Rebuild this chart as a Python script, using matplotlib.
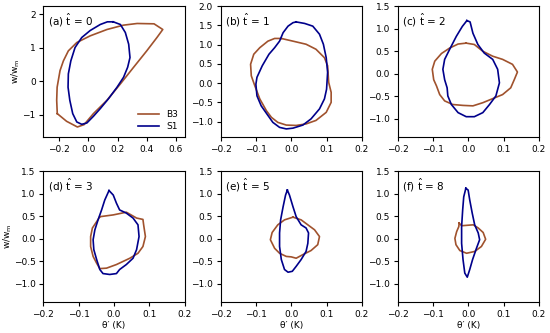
import numpy as np
import matplotlib
matplotlib.use("Agg")
import matplotlib.pyplot as plt

# contour outlines (theta' in K, w/w_m)
# (a) t = 0
a_b3_x = [-0.214, -0.15, -0.076, -0.03, 0.034, 0.127, 0.219, 0.31, 0.40, 0.47, 0.51, 0.45, 0.334, 0.24, 0.127, 0.012, -0.08, -0.138, -0.172, -0.195, -0.215, -0.218]
a_b3_y = [-0.97, -1.2, -1.37, -1.3, -0.97, -0.57, -0.08, 0.42, 0.91, 1.31, 1.55, 1.72, 1.73, 1.68, 1.55, 1.36, 1.16, 0.91, 0.61, 0.32, -0.18, -0.57]
a_s1_x = [0.17, 0.219, 0.253, 0.276, 0.285, 0.269, 0.241, 0.196, 0.138, 0.081, 0.034, -0.011, -0.046, -0.08, -0.108, -0.128, -0.14, -0.138, -0.121, -0.092, -0.046, 0.012, 0.081, 0.13]
a_s1_y = [1.78, 1.70, 1.46, 1.11, 0.71, 0.42, 0.12, -0.18, -0.52, -0.82, -1.05, -1.25, -1.29, -1.22, -0.97, -0.57, -0.18, 0.22, 0.61, 1.01, 1.31, 1.52, 1.70, 1.78]

# (b) t = 1
b_b3_x = [-0.028, 0.005, 0.042, 0.07, 0.094, 0.103, 0.106, 0.113, 0.113, 0.099, 0.07, 0.042, 0.014, -0.014, -0.038, -0.056, -0.07, -0.089, -0.103, -0.113, -0.115, -0.106, -0.089, -0.066, -0.047]
b_b3_y = [1.16, 1.09, 1.01, 0.88, 0.66, 0.45, 0.02, -0.24, -0.5, -0.76, -0.97, -1.06, -1.10, -1.09, -1.02, -0.89, -0.72, -0.41, -0.07, 0.19, 0.49, 0.75, 0.92, 1.09, 1.16]
b_s1_x = [0.014, 0.038, 0.061, 0.08, 0.091, 0.099, 0.103, 0.10, 0.094, 0.08, 0.056, 0.033, 0.005, -0.014, -0.033, -0.052, -0.069, -0.085, -0.097, -0.10, -0.097, -0.082, -0.063, -0.047, -0.033, -0.023, -0.009, 0.005]
b_s1_y = [1.59, 1.55, 1.48, 1.27, 1.01, 0.66, 0.28, -0.16, -0.41, -0.67, -0.93, -1.09, -1.17, -1.19, -1.15, -1.02, -0.80, -0.59, -0.33, -0.03, 0.15, 0.45, 0.75, 0.92, 1.09, 1.31, 1.48, 1.57]

# (c) t = 2
c_b3_x = [-0.006, 0.017, 0.041, 0.069, 0.097, 0.125, 0.139, 0.13, 0.12, 0.097, 0.069, 0.041, 0.013, -0.015, -0.044, -0.067, -0.081, -0.09, -0.098, -0.102, -0.095, -0.076, -0.053, -0.029]
c_b3_y = [0.68, 0.65, 0.5, 0.39, 0.32, 0.21, 0.04, -0.13, -0.31, -0.46, -0.55, -0.64, -0.71, -0.70, -0.68, -0.60, -0.46, -0.27, -0.13, 0.10, 0.28, 0.45, 0.57, 0.66]
c_s1_x = [-0.004, 0.005, 0.013, 0.027, 0.045, 0.069, 0.083, 0.088, 0.078, 0.06, 0.041, 0.017, -0.006, -0.029, -0.048, -0.058, -0.06, -0.067, -0.072, -0.067, -0.053, -0.034, -0.017]
c_s1_y = [1.18, 1.15, 0.90, 0.65, 0.46, 0.32, 0.10, -0.2, -0.49, -0.68, -0.86, -0.95, -0.95, -0.86, -0.68, -0.49, -0.31, -0.13, 0.10, 0.32, 0.54, 0.83, 1.05]

# (d) t = 3
d_b3_x = [-0.04, -0.002, 0.035, 0.064, 0.082, 0.084, 0.089, 0.082, 0.068, 0.045, 0.026, 0.007, -0.021, -0.04, -0.049, -0.059, -0.066, -0.066, -0.061, -0.049]
d_b3_y = [0.49, 0.53, 0.59, 0.46, 0.43, 0.31, 0.05, -0.17, -0.32, -0.43, -0.5, -0.57, -0.65, -0.66, -0.54, -0.39, -0.17, 0.05, 0.24, 0.38]
d_s1_x = [-0.014, -0.002, 0.007, 0.016, 0.035, 0.054, 0.068, 0.071, 0.064, 0.054, 0.035, 0.016, 0.007, -0.012, -0.031, -0.04, -0.049, -0.057, -0.059, -0.054, -0.045, -0.035, -0.026]
d_s1_y = [1.07, 0.97, 0.79, 0.64, 0.57, 0.46, 0.31, 0.05, -0.24, -0.43, -0.57, -0.68, -0.77, -0.79, -0.77, -0.68, -0.46, -0.24, -0.02, 0.2, 0.42, 0.64, 0.86]

# (e) t = 5
e_b3_x = [0.005, 0.028, 0.047, 0.066, 0.08, 0.075, 0.056, 0.033, 0.014, 0.0, -0.014, -0.033, -0.047, -0.059, -0.054, -0.038, -0.019]
e_b3_y = [0.48, 0.42, 0.31, 0.2, 0.05, -0.13, -0.26, -0.35, -0.43, -0.40, -0.39, -0.32, -0.21, -0.02, 0.14, 0.31, 0.42]
e_s1_x = [-0.011, -0.005, 0.005, 0.014, 0.028, 0.042, 0.049, 0.047, 0.042, 0.028, 0.014, 0.003, -0.009, -0.019, -0.028, -0.033, -0.033, -0.03, -0.023, -0.016]
e_s1_y = [1.08, 0.97, 0.71, 0.49, 0.31, 0.24, 0.13, -0.1, -0.28, -0.46, -0.61, -0.72, -0.74, -0.68, -0.46, -0.17, 0.13, 0.42, 0.71, 0.97]

# (f) t = 8
f_b3_x = [-0.026, -0.019, 0.014, 0.028, 0.042, 0.049, 0.037, 0.018, -0.005, -0.024, -0.035, -0.038, -0.033, -0.027]
f_b3_y = [0.35, 0.29, 0.31, 0.24, 0.14, -0.01, -0.17, -0.28, -0.32, -0.26, -0.13, 0.01, 0.16, 0.27]
f_s1_x = [-0.007, -0.0005, 0.004, 0.011, 0.018, 0.028, 0.032, 0.023, 0.012, 0.004, -0.003, -0.01, -0.015, -0.019, -0.019, -0.016, -0.013]
f_s1_y = [1.12, 1.08, 0.86, 0.57, 0.31, 0.13, -0.02, -0.21, -0.46, -0.68, -0.85, -0.76, -0.46, -0.1, 0.27, 0.64, 0.93]

panels = [
    ("(a)", 0, a_b3_x, a_b3_y, a_s1_x, a_s1_y),
    ("(b)", 1, b_b3_x, b_b3_y, b_s1_x, b_s1_y),
    ("(c)", 2, c_b3_x, c_b3_y, c_s1_x, c_s1_y),
    ("(d)", 3, d_b3_x, d_b3_y, d_s1_x, d_s1_y),
    ("(e)", 5, e_b3_x, e_b3_y, e_s1_x, e_s1_y),
    ("(f)", 8, f_b3_x, f_b3_y, f_s1_x, f_s1_y),
]

B3_COLOR = "sienna"
S1_COLOR = "darkblue"

plt.rcParams['font.family'] = ['DejaVu Sans']
fig = plt.figure(figsize=(5.5, 3.33), dpi=100)

lefts = [0.0787, 0.401, 0.723]
bottoms = [0.5886, 0.0931]
w, h = 0.257, 0.393


def closed(xs, ys):
    return list(xs) + [xs[0]], list(ys) + [ys[0]]


for i, (tag, t, bx, by, sx, sy) in enumerate(panels):
    row, col = divmod(i, 3)
    ax = fig.add_axes([lefts[col], bottoms[row], w, h])
    x, y = closed(bx, by)
    ax.plot(x, y, color=B3_COLOR, lw=1.2, label="B3")
    x, y = closed(sx, sy)
    ax.plot(x, y, color=S1_COLOR, lw=1.2, label="S1")

    ax.text(0.03, 0.96, tag + r" $\hat{\rm t}$ = " + str(t), transform=ax.transAxes,
            ha="left", va="top", fontsize=7.5)
    ax.tick_params(labelsize=6.5, length=3, width=0.8, pad=2.5)

    if i == 0:
        ax.set_xlim(-0.31, 0.66)
        ax.set_ylim(-1.67, 2.25)
        ax.set_xticks([-0.2, 0.0, 0.2, 0.4, 0.6])
        ax.set_yticks([-1, 0, 1, 2])
        ax.legend(loc="lower right", frameon=False, fontsize=6.5, handlelength=2.4,
                  borderaxespad=0.3, labelspacing=0.3)
    else:
        ax.set_xlim(-0.2, 0.2)
        ax.set_xticks([-0.2, -0.1, 0.0, 0.1, 0.2])
        if i == 1:
            ax.set_ylim(-1.4, 2.0)
            ax.set_yticks(np.arange(-1.0, 2.01, 0.5))
        else:
            ax.set_ylim(-1.4, 1.5)
            ax.set_yticks(np.arange(-1.0, 1.51, 0.5))

    if col == 0:
        ax.set_ylabel(r"w/w$_{\rm m}$", fontsize=6.5, labelpad=0)
    if row == 1:
        ax.set_xlabel("θ′ (K)", fontsize=6.5, labelpad=2)

fig.savefig("out.png", dpi=100)
